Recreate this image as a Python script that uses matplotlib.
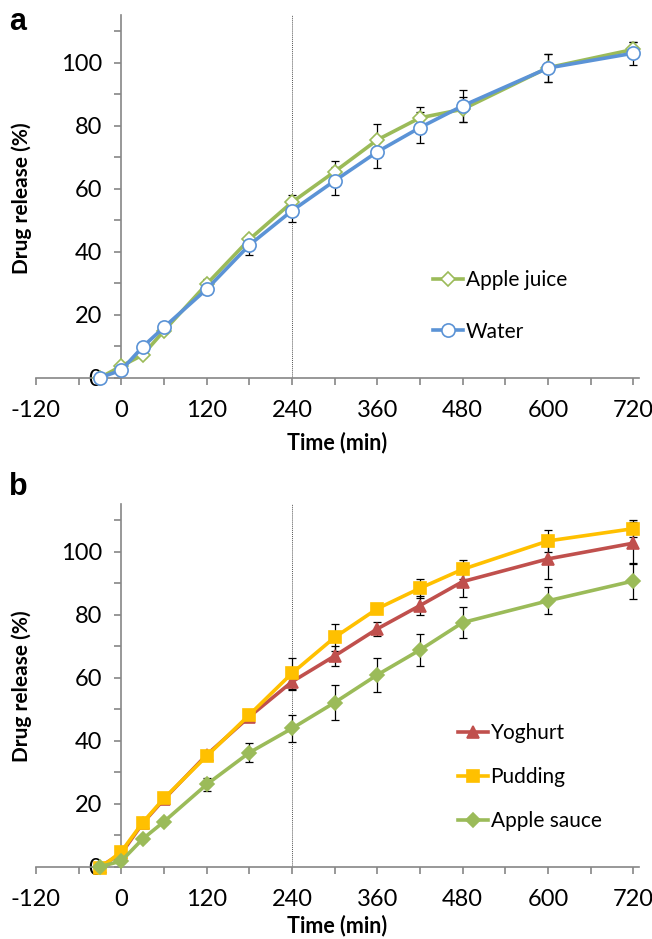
import matplotlib.pyplot as plt
from matplotlib.ticker import MultipleLocator, NullFormatter

plt.rcParams['font.family'] = ['Lato', 'DejaVu Sans']
plt.rcParams['axes.unicode_minus'] = False

# tempos de coleta (min)
tempo = [-30, 0, 30, 60, 120, 180, 240, 300, 360, 420, 480, 600, 720]

# painel a
apple_juice = [0, 3.7, 7.2, 14.9, 29.7, 43.9, 55.7, 65.4, 75.5, 82.5, 85.2, 98.4, 104.2]
apple_juice_sd = [0, 0.5, 0.5, 0.8, 1.5, 1.5, 2.3, 3.4, 5.0, 3.3, 4.0, 4.5, 2.5]
water = [0, 2.4, 9.8, 16.0, 28.1, 42.1, 53.0, 62.5, 71.7, 79.4, 86.3, 98.3, 103.0]
water_sd = [0, 0.5, 0.5, 0.8, 1.5, 3.0, 3.5, 4.5, 5.0, 5.0, 5.0, 4.5, 3.7]

# painel b
yoghurt = [0, 4.2, 13.8, 21.4, 35.5, 47.6, 58.7, 66.9, 75.5, 82.9, 90.5, 97.7, 102.7]
yoghurt_sd = [0, 0.5, 0.5, 0.8, 1.0, 1.5, 2.6, 3.2, 2.2, 3.0, 4.8, 6.4, 6.6]
pudding = [-0.5, 4.8, 14.0, 21.7, 35.1, 48.2, 61.4, 72.8, 81.9, 88.4, 94.4, 103.4, 107.3]
pudding_sd = [0, 0.5, 0.5, 0.8, 1.0, 1.0, 5.0, 4.2, 1.5, 3.0, 3.0, 3.5, 2.7]
apple_sauce = [0, 1.8, 8.8, 14.3, 26.1, 36.2, 43.9, 52.1, 60.9, 68.8, 77.5, 84.4, 90.7]
apple_sauce_sd = [0, 0.5, 0.5, 0.8, 2.0, 3.0, 4.3, 5.6, 5.5, 5.0, 5.0, 4.3, 5.8]

verde = '#9BBB59'
azul = '#5B93D6'
vermelho = '#C0504D'
amarelo = '#FFC000'
cinza = '#868686'

fig = plt.figure(figsize=(6.52, 9.39), dpi=100)
W, H = 652, 939


def monta_eixo(y0_px, y115_px):
    ax = fig.add_axes([36 / W, 1 - y0_px / H, 603 / W, (y0_px - y115_px) / H])
    ax.set_xlim(-120, 728)
    ax.set_ylim(0, 115)
    for lado in ['top', 'right']:
        ax.spines[lado].set_visible(False)
    ax.spines['left'].set_position(('data', 0))
    ax.spines['bottom'].set_position(('data', 0))
    for lado in ['left', 'bottom']:
        ax.spines[lado].set_color(cinza)
        ax.spines[lado].set_linewidth(1.2)
    ax.xaxis.set_major_locator(MultipleLocator(120))
    ax.xaxis.set_minor_locator(MultipleLocator(60))
    ax.yaxis.set_major_locator(MultipleLocator(20))
    ax.yaxis.set_minor_locator(MultipleLocator(10))
    ax.set_yticks([0, 20, 40, 60, 80, 100])
    ax.xaxis.set_minor_formatter(NullFormatter())
    ax.tick_params(which='both', direction='out', length=5, width=1.2, color=cinza,
                   labelsize=17)
    ax.tick_params(axis='x', which='major', pad=11)
    ax.tick_params(axis='y', which='major', pad=9)
    ax.axvline(240, color='#555555', lw=0.7, ls=(0, (1, 1)))
    ax.patch.set_alpha(0)
    return ax


def serie(ax, y, sd, cor, marcador, ms, label, aberto=False):
    ax.errorbar(tempo, y, yerr=sd, fmt='none', ecolor='black', elinewidth=0.9,
                capsize=3, capthick=0.9, zorder=2)
    face = 'white' if aberto else cor
    ax.plot(tempo, y, color=cor, lw=2.6, marker=marcador, ms=ms, mfc=face,
            mec=cor, mew=1.2, label=label, zorder=3, clip_on=False)


ax1 = monta_eixo(377.7, 15.4)
serie(ax1, apple_juice, apple_juice_sd, verde, 'D', 7.5, 'Apple juice', aberto=True)
serie(ax1, water, water_sd, azul, 'o', 9.5, 'Water', aberto=True)
ax1.legend(loc='upper left', bbox_to_anchor=(425 / W, 1 - 262 / H),
           bbox_transform=fig.transFigure, frameon=False, fontsize=15,
           handlelength=1.4, handletextpad=0.15, labelspacing=1.5, borderaxespad=0)

ax2 = monta_eixo(866.7, 504.4)
serie(ax2, yoghurt, yoghurt_sd, vermelho, '^', 9, 'Yoghurt')
serie(ax2, pudding, pudding_sd, amarelo, 's', 9, 'Pudding')
serie(ax2, apple_sauce, apple_sauce_sd, verde, 'D', 7, 'Apple sauce')
ax2.legend(loc='upper left', bbox_to_anchor=(450 / W, 1 - 715 / H),
           bbox_transform=fig.transFigure, frameon=False, fontsize=15,
           handlelength=1.4, handletextpad=0.15, labelspacing=1.15, borderaxespad=0)

for ycen, yx in [(198, 443), (686, 926)]:
    fig.text(22 / W, 1 - ycen / H, 'Drug release (%)', rotation=90, ha='center',
             va='center', fontsize=15, fontweight='bold')
    fig.text(337 / W, 1 - yx / H, 'Time (min)', ha='center', va='center',
             fontsize=15.5, fontweight='bold')

fig.text(18 / W, 1 - 22 / H, 'a', ha='center', va='center', fontsize=22,
         fontweight='bold', family='Liberation Sans')
fig.text(18 / W, 1 - 487 / H, 'b', ha='center', va='center', fontsize=22,
         fontweight='bold', family='Liberation Sans')

fig.savefig('out.png', dpi=100)
